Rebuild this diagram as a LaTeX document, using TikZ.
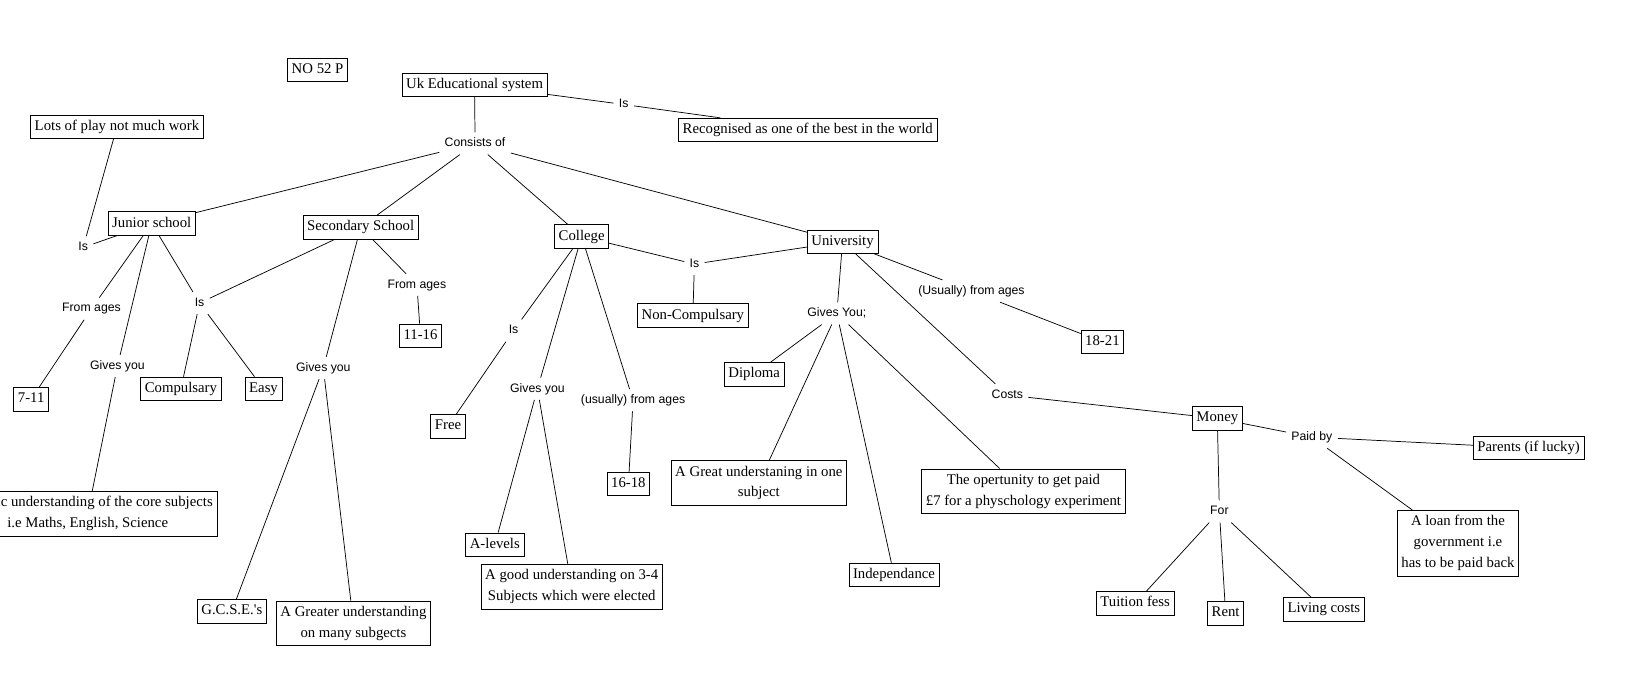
\documentclass[tikz,border=0pt]{standalone}
\usepackage{fontspec}
\setmainfont{Liberation Serif}
\newfontfamily\lblfont{Liberation Sans}
\begin{document}
\begin{tikzpicture}[x=1pt,y=-1pt,
  box/.style={draw=black, line width=0.7pt, fill=white, font=\fontsize{14.2}{20}\selectfont,
    inner xsep=4pt, inner ysep=4.5pt, text height=10.2pt, text depth=3.4pt},
  mbox/.style={draw=black, line width=0.7pt, fill=white, font=\fontsize{14.2}{20}\selectfont,
    inner xsep=4pt, inner ysep=5pt, align=center},
  lbl/.style={font=\lblfont\fontsize{11.8}{14}\selectfont, inner xsep=5pt, inner ysep=5pt,
    text height=8.6pt, text depth=2.4pt},
  con/.style={line width=0.7pt, black}]
\useasboundingbox (0,0) rectangle (1568,660);
\fill[white] (0,0) rectangle (1568,660);
\clip (0,0) rectangle (1568,660);

% concepts
\node[box] (no52) at (305.5,67) {NO 52 P};
\node[box] (uk) at (456.5,81.5) {Uk Educational system};
\node[box] (recog) at (777,125) {Recognised as one of the best in the world};
\node[box] (lots) at (112.5,122) {Lots of play not much work};
\node[box] (junior) at (146,215) {Junior school};
\node[box] (secondary) at (347,218.5) {Secondary School};
\node[box] (college) at (559.5,227.5) {College};
\node[box] (univ) at (810.5,232.5) {University};
\node[box] (b1116) at (404.5,323) {11-16};
\node[box] (b711) at (30,384) {7-11};
\node[box] (compuls) at (174,374) {Compulsary};
\node[box] (easy) at (253.5,374) {Easy};
\node[mbox, anchor=east] (basic) at (209,494) {A basic understanding of the core subjects\\i.e Maths, English, Science};
\node[box] (gcse) at (223,588) {G.C.S.E.\textquotesingle s};
\node[mbox] (greater) at (340,599.5) {A Greater understanding\\on many subgects};
\node[box] (free) at (431,410) {Free};
\node[box] (alevels) at (476,524) {A-levels};
\node[mbox] (agood) at (550,564.5) {A good understanding on 3-4\\Subjects which were elected};
\node[box] (b1618) at (604.5,465.5) {16-18};
\node[box] (noncomp) at (666.5,303.5) {Non-Compulsary};
\node[box] (b1821) at (1060.5,329) {18-21};
\node[box] (diploma) at (725.5,360) {Diploma};
\node[mbox] (agreat) at (730,464.5) {A Great understaning in one\\subject};
\node[mbox] (opert) at (984.5,472.5) {The opertunity to get paid\\\pounds7 for a physchology experiment};
\node[box] (indep) at (860,553) {Independance};
\node[box] (money) at (1171,402.5) {Money};
\node[box] (parents) at (1470.5,431) {Parents (if lucky)};
\node[mbox] (loan) at (1402.5,522.5) {A loan from the\\government i.e\\has to be paid back};
\node[box] (tuition) at (1092,580.5) {Tuition fess};
\node[box] (rent) at (1179,590) {Rent};
\node[box] (living) at (1273.5,586) {Living costs};

% linking phrases
\node[lbl] (consists) at (457,138) {Consists of};
\node[lbl] (isTop) at (600,100.5) {Is};
\node[lbl] (isJL) at (80,238) {Is};
\node[lbl] (fromJ) at (88,297) {From ages};
\node[lbl] (isJM) at (192,291.5) {Is};
\node[lbl] (givesJ) at (113,352) {Gives you};
\node[lbl] (fromS) at (401,274) {From ages};
\node[lbl] (givesS) at (311,354) {Gives you};
\node[lbl] (isC) at (494,318) {Is};
\node[lbl] (givesC) at (517,374) {Gives you};
\node[lbl] (usuallyC) at (609,385) {(usually) from ages};
\node[lbl] (isCU) at (668,254) {Is};
\node[lbl] (givesU) at (805,301.5) {Gives You;};
\node[lbl] (usuallyU) at (934.5,280) {(Usually) from ages};
\node[lbl] (costs) at (969,380) {Costs};
\node[lbl] (paidby) at (1262,420.5) {Paid by};
\node[lbl] (for) at (1173,492) {For};

% connectors
\draw[con] (uk) -- (consists);
\draw[con] (uk) -- (isTop);
\draw[con] (isTop) -- (recog);
\draw[con] (consists) -- (junior);
\draw[con] (consists) -- (secondary);
\draw[con] (consists) -- (college);
\draw[con] (consists) -- (univ);
\draw[con] (lots) -- (isJL);
\draw[con] (isJL) -- (junior);
\draw[con] (junior) -- (fromJ);
\draw[con] (fromJ) -- (b711);
\draw[con] (junior) -- (givesJ);
\draw[con] (givesJ) -- (basic);
\draw[con] (junior) -- (isJM);
\draw[con] (secondary) -- (isJM);
\draw[con] (isJM) -- (compuls);
\draw[con] (isJM) -- (easy);
\draw[con] (secondary) -- (givesS);
\draw[con] (givesS) -- (gcse);
\draw[con] (givesS) -- (greater);
\draw[con] (secondary) -- (fromS);
\draw[con] (fromS) -- (b1116);
\draw[con] (college) -- (isC);
\draw[con] (isC) -- (free);
\draw[con] (college) -- (givesC);
\draw[con] (givesC) -- (alevels);
\draw[con] (givesC) -- (agood);
\draw[con] (college) -- (usuallyC);
\draw[con] (usuallyC) -- (b1618);
\draw[con] (college) -- (isCU);
\draw[con] (univ) -- (isCU);
\draw[con] (isCU) -- (noncomp);
\draw[con] (univ) -- (givesU);
\draw[con] (givesU) -- (diploma);
\draw[con] (givesU) -- (agreat);
\draw[con] (givesU) -- (indep);
\draw[con] (givesU) -- (opert);
\draw[con] (univ) -- (usuallyU);
\draw[con] (usuallyU) -- (b1821);
\draw[con] (univ) -- (costs);
\draw[con] (costs) -- (money);
\draw[con] (money) -- (paidby);
\draw[con] (paidby) -- (parents);
\draw[con] (paidby) -- (loan);
\draw[con] (money) -- (for);
\draw[con] (for) -- (tuition);
\draw[con] (for) -- (rent);
\draw[con] (for) -- (living);
\end{tikzpicture}
\end{document}
